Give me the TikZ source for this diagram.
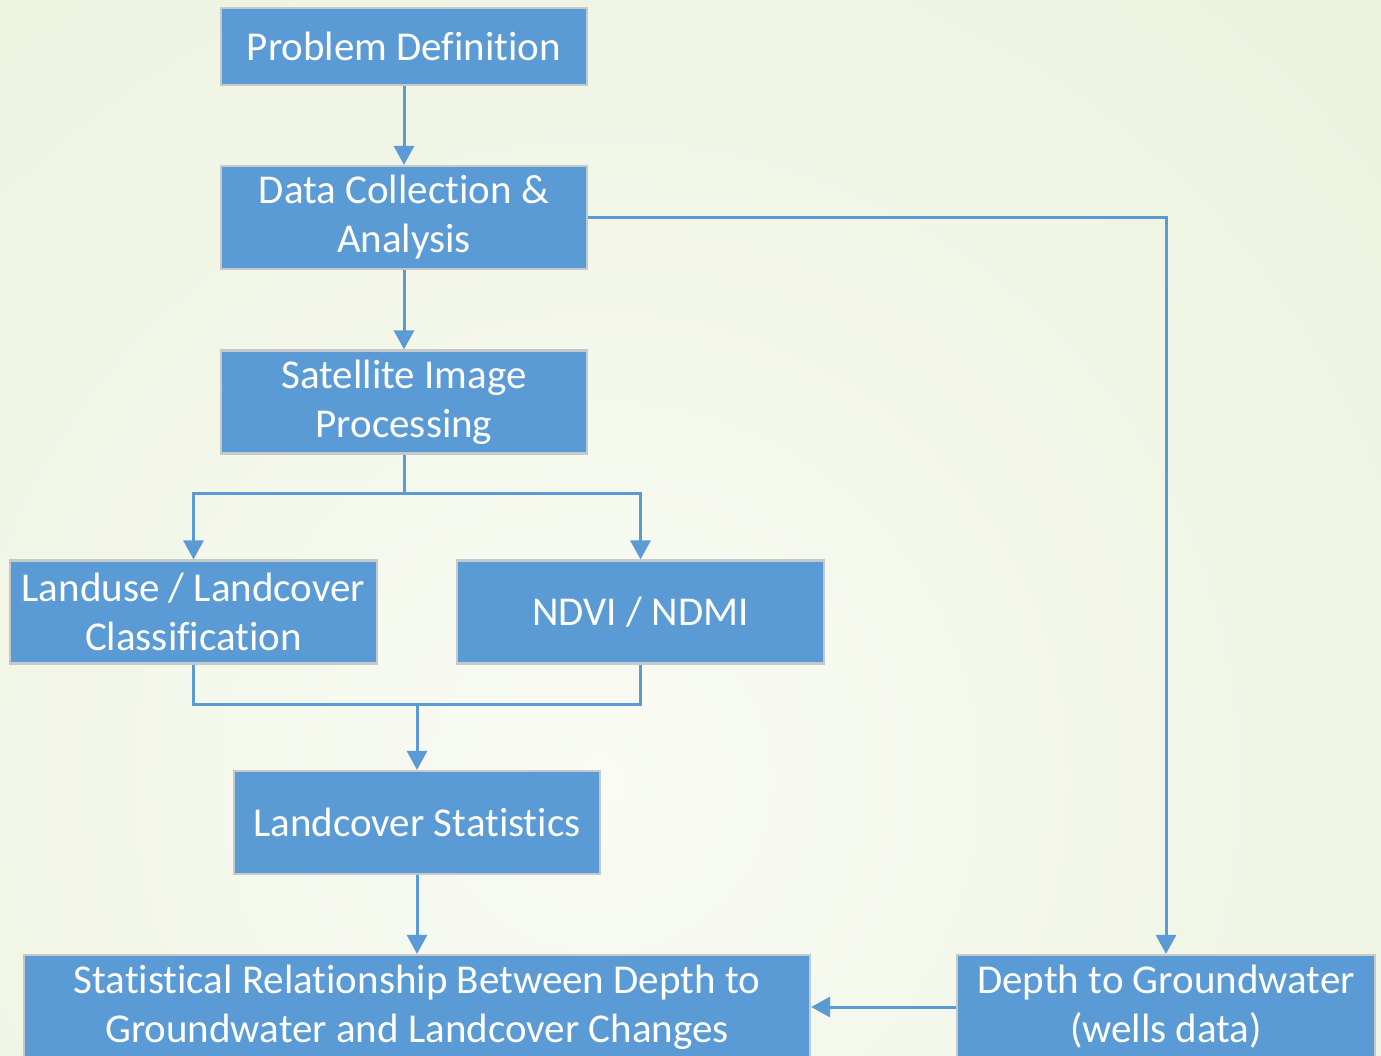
\documentclass[tikz,border=0pt]{standalone}
\usepackage{fontspec}
\setmainfont{Carlito}[Ligatures={NoCommon,NoContextual}]
\usetikzlibrary{arrows.meta}
\definecolor{boxblue}{HTML}{5B9BD5}
\definecolor{boxborder}{HTML}{C4C9CC}
\definecolor{bginner}{HTML}{F9FBF4}
\definecolor{bgouter}{HTML}{DFE8C6}
\tikzset{
  box/.style={draw=boxborder, line width=2.2pt, fill=boxblue, text=white,
    minimum width=366pt, minimum height=103pt, align=center, inner sep=0pt,
    font=\fontsize{41}{49}\selectfont},
  link/.style={draw=boxblue, line width=3pt},
  conn/.style={link, -{Triangle[width=20pt,length=19pt]}}
}
\begin{document}
\begin{tikzpicture}[x=1pt,y=-1pt]
\useasboundingbox (0,0) rectangle (1381,1055);
\begin{scope}
\clip (0,0) rectangle (1381,1055);
\shade[inner color=bginner, outer color=bgouter] (600,780) circle (2200);
\node[box, minimum height=77pt] (pd) at (404,46.5) {Problem Definition};
\node[box] (dca) at (404,217.5) {Data Collection \&\\Analysis};
\node[box] (sip) at (404,402) {Satellite Image\\Processing};
\node[box, minimum width=367pt] (llc) at (193.5,612) {Landuse / Landcover\\Classification};
\node[box, minimum width=367pt] (ndvi) at (640.5,612) {NDVI / NDMI};
\node[box] (ls) at (417,822.5) {Landcover Statistics};
\node[box, minimum width=786pt, minimum height=104pt] (sr) at (417,1007) {Statistical Relationship Between Depth to\\Groundwater and Landcover Changes};
\node[box, minimum width=418pt, minimum height=104pt] (dg) at (1166,1007) {Depth to Groundwater\\(wells data)};
\coordinate (j1) at (404,493);
\coordinate (j2) at (417,704);
\draw[conn] (pd.south) -- (dca.north);
\draw[conn] (dca.south) -- (sip.north);
\draw[link] (sip.south) -- (j1);
\draw[conn] (j1) -| (llc.north);
\draw[conn] (j1) -| (ndvi.north);
\draw[link] (llc.south) |- (j2) -| (ndvi.south);
\draw[conn] (j2) -- (ls.north);
\draw[conn] (ls.south) -- (sr.north);
\draw[conn] (dca.east) -| (dg.north);
\draw[conn] (dg.west) -- (sr.east);
\end{scope}
\end{tikzpicture}
\end{document}
